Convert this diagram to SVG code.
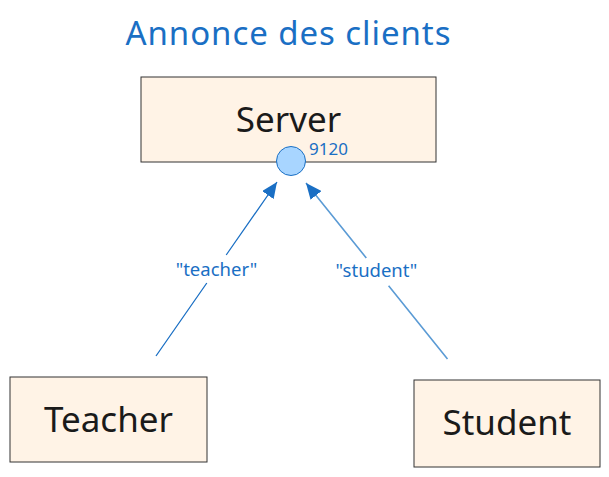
<svg xmlns="http://www.w3.org/2000/svg" width="609" height="477" viewBox="0 0 609 477">
<style>
.box{fill:#fff3e6;stroke:#333;stroke-width:1}
.nt{font-family:"Noto Sans","Open Sans",sans-serif;font-size:35px;fill:#1a1a1a;text-anchor:middle}
.el{font-family:"Noto Sans","Open Sans",sans-serif;font-size:18.5px;fill:#1a6fc4;text-anchor:middle}
</style>
<defs>
<marker id="ah2" viewBox="0 0 16 14" refX="16" refY="7" markerWidth="16" markerHeight="14" markerUnits="userSpaceOnUse" orient="auto">
<path d="M0,0 L16,7 L0,14 z" fill="#1a6fc4"/>
</marker>
</defs>
<rect width="609" height="477" fill="#fff"/>
<text x="288" y="45" font-family="Noto Sans, Open Sans, sans-serif" font-size="33" fill="#1a6fc4" text-anchor="middle" textLength="325">Annonce des clients</text>
<g id="server">
<rect class="box" x="141" y="77" width="295" height="85"/>
<text class="nt" x="288.5" y="132">Server</text>
<circle cx="291" cy="161" r="14.5" fill="#a8d5ff" stroke="#1a6fc4" stroke-width="1"/>
<text x="309" y="155" font-family="Noto Sans, Open Sans, sans-serif" font-size="17" fill="#1a6fc4">9120</text>
</g>
<g id="teacher">
<rect class="box" x="10" y="377" width="197" height="85"/>
<text class="nt" x="108.5" y="432">Teacher</text>
</g>
<g id="student">
<rect class="box" x="414" y="380" width="186" height="87"/>
<text class="nt" x="507" y="435">Student</text>
</g>
<g id="connectors">
<path d="M156,356 L206.8,283 M226.2,255 L277,182" fill="none" stroke="#1a6fc4" stroke-width="1.3" marker-end="url(#ah2)"/>
<path d="M447.5,359 L388.6,285.7 M366.3,258 L306,183" fill="none" stroke="#5b9bd5" stroke-width="1.6" marker-end="url(#ah2)"/>
<text class="el" x="216.5" y="276">"teacher"</text>
<text class="el" x="376.5" y="277">"student"</text>
</g>
</svg>
